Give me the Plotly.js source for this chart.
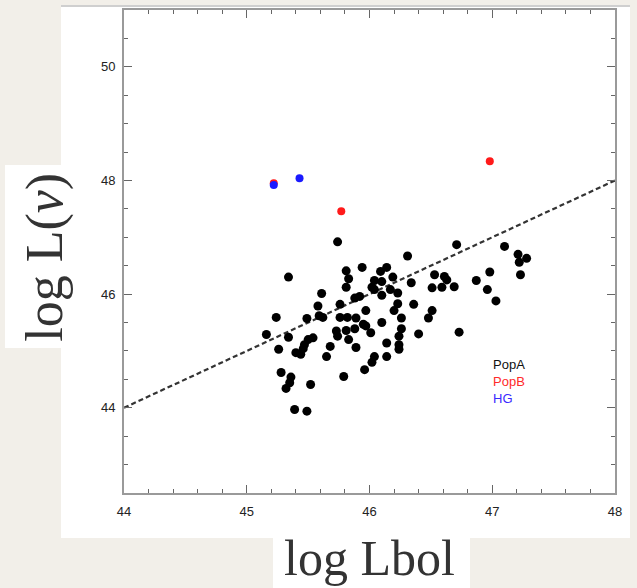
<!DOCTYPE html>
<html>
<head>
<meta charset="utf-8">
<script src="https://cdn.plot.ly/plotly-3.0.1.min.js"></script>
<style>
  html, body { margin: 0; padding: 0; background: #f2efe9; }
  #chart { width: 637px; height: 588px; }
</style>
</head>
<body>
<div id="chart"></div>
<script>
// PopA (black)
const popA_x = [45.74,45.34,45.81,45.83,45.81,45.61,45.58,45.76,45.24,45.49,45.59,45.62,45.76,45.82,45.89,
  46.31,45.94,46.09,46.14,46.19,46.04,46.10,46.02,46.04,46.10,46.17,46.23,46.34,46.53,46.61,46.63,46.51,46.59,46.69,
  45.92,45.88,46.23,46.36,46.20,46.26,46.51,46.48,45.97,46.10,45.95,
  46.71,47.10,47.21,47.28,47.22,47.23,46.98,46.87,46.96,47.03,
  45.16,45.34,45.26,45.50,45.54,45.47,45.46,45.40,45.44,45.68,45.65,45.73,45.74,45.81,45.83,
  45.28,45.36,45.35,45.32,45.52,45.79,45.39,45.49,
  45.88,45.97,46.01,45.89,46.14,46.26,46.24,46.24,46.24,46.40,46.04,46.02,46.14,45.96,46.73];
const popA_y = [46.92,46.30,46.41,46.27,46.12,46.01,45.79,45.82,45.59,45.57,45.62,45.59,45.59,45.59,45.58,
  46.67,46.47,46.40,46.47,46.30,46.24,46.22,46.12,46.08,45.98,46.08,46.02,46.20,46.34,46.31,46.25,46.11,46.12,46.13,
  45.96,45.93,45.83,45.82,45.71,45.58,45.71,45.58,45.71,45.50,45.47,
  46.87,46.84,46.70,46.63,46.56,46.34,46.39,46.24,46.08,45.88,
  45.29,45.24,45.03,45.20,45.23,45.11,45.04,44.97,44.94,45.08,44.90,45.35,45.26,45.36,45.20,
  44.62,44.54,44.44,44.34,44.41,44.55,43.97,43.94,
  45.39,45.44,45.32,45.06,45.14,45.39,45.26,45.11,45.03,45.30,44.90,44.80,44.90,44.67,45.33];
// PopB (red)
const popB_x = [45.22, 45.77, 46.98];
const popB_y = [47.95, 47.46, 48.34];
// HG (blue)
const hg_x = [45.22, 45.43];
const hg_y = [47.92, 48.04];
// dashed relation
const fit_x = [44, 48];
const fit_y = [44, 48];
// axis ticks
const xTicks = [44, 45, 46, 47, 48];
const yTicks = [44, 46, 48, 50];
const legendLabels = ["PopA", "PopB", "HG"];
const legendColors = ["#111111", "#ff2a2a", "#3a2aff"];

const traces = [
  {x: fit_x, y: fit_y, mode: 'lines', type: 'scatter', hoverinfo: 'skip',
   line: {color: '#333333', width: 2.2, dash: '5px,3px'}},
  {x: popA_x, y: popA_y, mode: 'markers', type: 'scatter', name: 'PopA',
   marker: {color: '#000000', size: 9}},
  {x: popB_x, y: popB_y, mode: 'markers', type: 'scatter', name: 'PopB',
   marker: {color: '#ff1a1a', size: 8}},
  {x: hg_x, y: hg_y, mode: 'markers', type: 'scatter', name: 'HG',
   marker: {color: '#1a1aff', size: 8}}
];

const axisCommon = {
  showgrid: false, zeroline: false, showline: true, linecolor: '#9a9a9a', linewidth: 2,
  mirror: 'ticks', ticks: 'inside', ticklen: 8, tickwidth: 1, tickcolor: '#666666',
  tickfont: {family: 'Liberation Sans, Arial, sans-serif', size: 13, color: '#222222'},
  tickmode: 'array'
};

const annotations = [
  {text: 'log Lbol', xref: 'paper', yref: 'paper', x: 0.5, y: -0.135, xanchor: 'center', yanchor: 'middle',
   showarrow: false, font: {family: 'Liberation Serif, Times New Roman, serif', size: 50, color: '#333333'}},
  {text: 'log L(<i>v</i>)', xref: 'paper', yref: 'paper', x: -0.161, y: 0.489, xanchor: 'center', yanchor: 'middle',
   textangle: -90, showarrow: false, font: {family: 'Liberation Serif, Times New Roman, serif', size: 52, color: '#333333'}}
];
legendLabels.forEach((t, i) => {
  annotations.push({text: t, xref: 'paper', yref: 'paper', x: (491 - 124) / 491, y: (493 - 364 - i * 17) / 483,
    xanchor: 'left', yanchor: 'middle', showarrow: false,
    font: {family: 'Liberation Sans, Arial, sans-serif', size: 13, color: legendColors[i]}});
});

const layout = {
  width: 637, height: 588,
  margin: {l: 124, r: 22, t: 10, b: 95},
  paper_bgcolor: '#f2efe9', plot_bgcolor: '#ffffff',
  showlegend: false,
  xaxis: Object.assign({}, axisCommon, {range: [44, 48], tickvals: xTicks, ticktext: xTicks.map(String),
    ticklabelstandoff: 5,
    minor: {dtick: 0.2, ticks: 'inside', ticklen: 4, tickcolor: '#666666', tickwidth: 1}}),
  yaxis: Object.assign({}, axisCommon, {range: [42.5, 51], tickvals: yTicks, ticktext: yTicks.map(String),
    ticklabelstandoff: 4,
    minor: {dtick: 0.5, ticks: 'inside', ticklen: 4, tickcolor: '#666666', tickwidth: 1}}),
  shapes: [
    {type: 'rect', xref: 'paper', yref: 'paper', x0: -0.1283, x1: 1.0305, y0: -0.0932, y1: 1.0083,
     fillcolor: '#ffffff', line: {width: 0}, layer: 'below'},
    {type: 'line', xref: 'paper', yref: 'paper', x0: -0.1283, x1: 1.0305, y0: 1.0083, y1: 1.0083,
     line: {color: '#cfcfcf', width: 2}, layer: 'below'},
    {type: 'rect', xref: 'paper', yref: 'paper', x0: -0.2424, x1: -0.128, y0: 0.3002, y1: 0.6791,
     fillcolor: '#ffffff', line: {width: 0}, layer: 'below'},
    {type: 'rect', xref: 'paper', yref: 'paper', x0: 0.3035, x1: 0.7047, y0: -0.1967, y1: -0.093,
     fillcolor: '#ffffff', line: {width: 0}, layer: 'below'}
  ],
  annotations: annotations
};

Plotly.newPlot('chart', traces, layout, {displayModeBar: false, staticPlot: true});
</script>
</body>
</html>
